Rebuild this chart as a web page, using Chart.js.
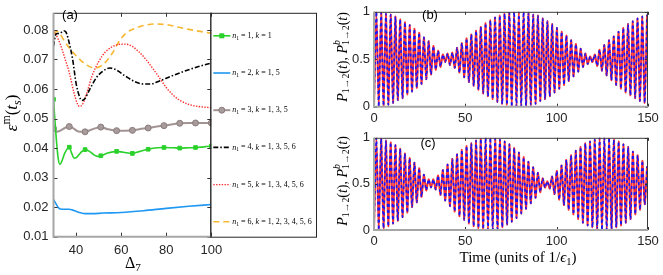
<!DOCTYPE html>
<html>
<head>
<meta charset="utf-8">
<script src="https://cdn.jsdelivr.net/npm/chart.js@4.4.0/dist/chart.umd.min.js"></script>
<style>
  body { margin: 0; background: #fff; width: 663px; height: 275px; overflow: hidden; position: relative; }
  canvas { position: absolute; }
  #ca { left: 0; top: 0; }
  #cb { left: 330px; top: 0; }
  #cc { left: 330px; top: 126px; }
</style>
</head>
<body>
<canvas id="ca" width="330" height="275"></canvas>
<canvas id="cb" width="333" height="126"></canvas>
<canvas id="cc" width="333" height="149"></canvas>
<script>
// ---- panel (a): eps^m(t_s) vs Delta_7 ----
const markerDelta = [30, 37, 44, 51, 58, 65, 72, 79, 86, 93, 100];

const deltaN1 = [30, 31, 32, 32.8, 33.5, 35, 37, 38, 39.1, 40, 42, 44, 46, 48, 49.5, 51, 54, 58, 61, 65, 68, 72, 76, 79, 83, 86, 90, 93, 97, 100];
const epsN1 = [0.0565, 0.0455, 0.0370, 0.0345, 0.0352, 0.0383, 0.0403, 0.0384, 0.0366, 0.0367, 0.0384, 0.0395, 0.0389, 0.0377, 0.0372, 0.0374, 0.0383, 0.0389, 0.0386, 0.0382, 0.0388, 0.0396, 0.0401, 0.0402, 0.0401, 0.0400, 0.0401, 0.0402, 0.0404, 0.0407];

const deltaN2 = [30, 31, 32, 33, 35, 37, 38.5, 40, 42, 44, 47, 52, 60, 70, 80, 90, 100];
const epsN2 = [0.0226, 0.0213, 0.0200, 0.0194, 0.0193, 0.0193, 0.0190, 0.0186, 0.0181, 0.0178, 0.0178, 0.0180, 0.0182, 0.0188, 0.0196, 0.0203, 0.0209];

const deltaN3 = [30, 31.5, 33, 35, 37, 39, 41, 44, 47, 51, 54, 58, 62, 65, 68, 72, 76, 79, 83, 86, 90, 93, 100];
const epsN3 = [0.0466, 0.0455, 0.0459, 0.0468, 0.0473, 0.0466, 0.0456, 0.0455, 0.0463, 0.0471, 0.0464, 0.0459, 0.0459, 0.0460, 0.0464, 0.0468, 0.0473, 0.0476, 0.0481, 0.0484, 0.0485, 0.0485, 0.0485];

const deltaN4 = [30, 31, 32, 33, 34.5, 35.5, 37, 38.5, 40, 41.5, 42.5, 44, 46, 49, 52, 55, 58, 62, 66, 70, 73, 77, 82, 88, 94, 100];
const epsN4 = [0.0745, 0.0785, 0.0788, 0.0789, 0.0797, 0.0793, 0.0755, 0.0700, 0.0620, 0.0575, 0.0561, 0.0568, 0.0598, 0.0638, 0.0661, 0.0671, 0.0664, 0.0643, 0.0625, 0.0617, 0.0617, 0.0627, 0.0643, 0.0660, 0.0675, 0.0688];

const deltaN5 = [30, 31, 32, 33, 35, 37, 39, 40.5, 41.5, 43, 45, 47, 50, 53, 56, 59, 62, 65, 68, 71, 74, 77, 80, 83, 86, 90, 95, 100];
const epsN5 = [0.0795, 0.0785, 0.0770, 0.0752, 0.0705, 0.0655, 0.0590, 0.0552, 0.0541, 0.0550, 0.0592, 0.0642, 0.0692, 0.0725, 0.0743, 0.0751, 0.0752, 0.0744, 0.0725, 0.0700, 0.0670, 0.0638, 0.0605, 0.0580, 0.0562, 0.0548, 0.0540, 0.0537];

const deltaN6 = [30, 31.5, 33, 35, 38, 41, 44, 47, 49, 51, 53, 56, 59, 62, 66, 70, 75, 80, 85, 90, 95, 100];
const epsN6 = [0.0785, 0.0795, 0.0785, 0.0760, 0.0730, 0.0705, 0.0685, 0.0673, 0.0672, 0.0678, 0.0690, 0.0720, 0.0760, 0.0788, 0.0805, 0.0815, 0.0820, 0.0818, 0.0810, 0.0802, 0.0795, 0.0789];

const kSets = ['1', '1, 5', '1, 3, 5', '1, 3, 5, 6', '1, 3, 4, 5, 6', '1, 2, 3, 4, 5, 6'];
const yTicksA = [0.01, 0.02, 0.03, 0.04, 0.05, 0.06, 0.07, 0.08];
const xTicksA = [40, 60, 80, 100];

// ---- panels (b),(c): transition probabilities vs time (extrema of the fast oscillation) ----
const times = [0, 1.3, 2.6, 3.9, 5.2, 6.5, 7.8, 9.1, 10.4, 11.7, 13, 14.3, 15.6, 16.9, 18.2, 19.5, 20.8, 22.1, 23.4, 24.7,
  26, 27.3, 28.6, 29.9, 31.2, 32.5, 33.8, 35.1, 36.4, 37.7, 39, 40.3, 41.6, 42.9, 44.2, 45.5, 46.8, 48.1, 49.4, 50.7,
  52, 53.3, 54.6, 55.9, 57.2, 58.5, 59.8, 61.1, 62.4, 63.7, 65, 66.3, 67.6, 68.9, 70.2, 71.5, 72.8, 74.1, 75.4, 76.7,
  78, 79.3, 80.6, 81.9, 83.2, 84.5, 85.8, 87.1, 88.4, 89.7, 91, 92.3, 93.6, 94.9, 96.2, 97.5, 98.8, 100.1, 101.4, 102.7,
  104, 105.3, 106.6, 107.9, 109.2, 110.5, 111.8, 113.1, 114.4, 115.7, 117, 118.3, 119.6, 120.9, 122.2, 123.5, 124.8, 126.1, 127.4, 128.7,
  130, 131.3, 132.6, 133.9, 135.2, 136.5, 137.8, 139.1, 140.4, 141.7, 143, 144.3, 145.6, 146.9, 148.2, 149.5];

const probB = [0.00, 1.00, 0.00, 0.99, 0.01, 0.98, 0.02, 0.97, 0.04, 0.95,
  0.07, 0.92, 0.09, 0.89, 0.13, 0.86, 0.16, 0.82, 0.20, 0.78,
  0.24, 0.73, 0.29, 0.69, 0.34, 0.64, 0.39, 0.59, 0.42, 0.55,
  0.47, 0.56, 0.44, 0.57, 0.41, 0.62, 0.36, 0.67, 0.31, 0.72,
  0.26, 0.76, 0.22, 0.80, 0.18, 0.84, 0.14, 0.88, 0.11, 0.91,
  0.08, 0.94, 0.05, 0.96, 0.03, 0.98, 0.02, 0.99, 0.00, 1.00,
  0.00, 1.00, 0.00, 1.00, 0.01, 0.99, 0.02, 0.97, 0.03, 0.96,
  0.06, 0.93, 0.08, 0.90, 0.11, 0.87, 0.15, 0.83, 0.19, 0.79,
  0.23, 0.75, 0.27, 0.70, 0.32, 0.66, 0.37, 0.61, 0.42, 0.56,
  0.45, 0.53, 0.47, 0.55, 0.43, 0.60, 0.38, 0.65, 0.33, 0.70,
  0.28, 0.74, 0.23, 0.79, 0.19, 0.83, 0.15, 0.87, 0.12, 0.90,
  0.09, 0.93, 0.06, 0.95, 0.04, 0.97];

const probC = [0.00, 1.00, 0.00, 0.99, 0.02, 0.97, 0.04, 0.95, 0.07, 0.92,
  0.10, 0.88, 0.14, 0.83, 0.19, 0.78, 0.25, 0.73, 0.30, 0.67,
  0.36, 0.60, 0.43, 0.55, 0.46, 0.55, 0.44, 0.59, 0.38, 0.65,
  0.32, 0.71, 0.26, 0.77, 0.20, 0.82, 0.15, 0.87, 0.11, 0.91,
  0.07, 0.94, 0.04, 0.97, 0.02, 0.99, 0.01, 1.00, 0.00, 1.00,
  0.00, 0.99, 0.01, 0.98, 0.03, 0.96, 0.06, 0.93, 0.09, 0.89,
  0.13, 0.84, 0.18, 0.79, 0.23, 0.74, 0.29, 0.68, 0.35, 0.62,
  0.41, 0.56, 0.46, 0.53, 0.45, 0.58, 0.39, 0.64, 0.33, 0.70,
  0.27, 0.76, 0.22, 0.81, 0.17, 0.86, 0.12, 0.90, 0.08, 0.94,
  0.05, 0.96, 0.03, 0.98, 0.01, 1.00, 0.00, 1.00, 0.00, 1.00,
  0.01, 0.98, 0.03, 0.96, 0.05, 0.93, 0.08, 0.90, 0.12, 0.85,
  0.17, 0.81, 0.22, 0.75, 0.28, 0.69];

const yTicksP = [0, 0.5, 1];
const xTicksT = [0, 50, 100, 150];

// ---------- helpers ----------
const pts = (xs, ys) => xs.map((x, i) => ({ x: x, y: ys[i] }));

// draws text with italic / sub / superscript pieces
function rich(ctx, parts, x, y, size, rot, left) {
  ctx.save();
  ctx.translate(x, y);
  ctx.rotate(rot || 0);
  ctx.fillStyle = '#000';
  ctx.textAlign = 'left';
  ctx.textBaseline = 'middle';
  const font = p => (p.i ? 'italic ' : '') + (p.s ? size * 0.7 : size) + 'px "Liberation Serif", "DejaVu Serif"';
  let w = 0;
  parts.forEach(p => { ctx.font = font(p); if (!p.k) w += ctx.measureText(p.t).width; });
  let cx = left ? 0 : -w / 2;
  parts.forEach(p => {
    ctx.font = font(p);
    const dy = p.s === 'sub' ? size * 0.28 : p.s === 'sup' ? -size * 0.38 : 0;
    ctx.fillText(p.t, cx, dy);
    if (!p.k) cx += ctx.measureText(p.t).width;
  });
  ctx.restore();
}

// box and inward ticks like the original
const frame = {
  id: 'frame',
  afterDraw(chart, args, o) {
    const { ctx, chartArea: a, scales } = chart;
    ctx.save();
    ctx.setLineDash([]);
    const tl = o.len || 3;
    ctx.strokeStyle = '#333';
    ctx.lineWidth = 1;
    scales.x.ticks.forEach(t => {
      const px = Math.round(scales.x.getPixelForValue(t.value)) + 0.5;
      ctx.beginPath(); ctx.moveTo(px, a.bottom); ctx.lineTo(px, a.bottom - tl);
      ctx.moveTo(px, a.top); ctx.lineTo(px, a.top + tl); ctx.stroke();
    });
    scales.y.ticks.forEach(t => {
      const py = Math.round(scales.y.getPixelForValue(t.value)) + 0.5;
      ctx.beginPath(); ctx.moveTo(a.left, py); ctx.lineTo(a.left + tl, py);
      ctx.moveTo(a.right, py); ctx.lineTo(a.right - tl, py); ctx.stroke();
    });
    ctx.strokeStyle = '#3a3a3a';
    ctx.beginPath(); ctx.moveTo(a.left, a.top + 0.5); ctx.lineTo(a.right, a.top + 0.5);
    ctx.moveTo(a.right - 0.5, a.top); ctx.lineTo(a.right - 0.5, a.bottom); ctx.stroke();
    ctx.strokeStyle = '#a6a6a6';
    ctx.lineWidth = 2;
    ctx.beginPath(); ctx.moveTo(a.left, a.top); ctx.lineTo(a.left, a.bottom);
    ctx.lineTo(a.right, a.bottom); ctx.stroke();
    ctx.font = '13px "Liberation Sans"';
    ctx.fillStyle = '#000';
    ctx.textAlign = 'center';
    ctx.textBaseline = 'middle';
    ctx.fillText(o.tag, o.tagX, o.tagY);
    if (o.extra) o.extra(ctx, chart);
    ctx.restore();
  }
};

const tickFont = { family: 'Liberation Sans', size: 13 };

function axisX(min, max, ticks, h, pad) {
  return {
    type: 'linear', min: min, max: max,
    grid: { display: false, drawTicks: false }, border: { display: false },
    ticks: { font: tickFont, color: '#262626', padding: pad, maxRotation: 0, autoSkip: false, callback: v => String(v) },
    afterBuildTicks: s => { s.ticks = ticks.map(v => ({ value: v })); },
    afterFit: s => { s.height = h; }
  };
}
function axisY(min, max, ticks, w, pad, fmt) {
  return {
    type: 'linear', min: min, max: max,
    grid: { display: false, drawTicks: false }, border: { display: false },
    ticks: { font: tickFont, color: '#262626', padding: pad, autoSkip: false, callback: fmt },
    afterBuildTicks: s => { s.ticks = ticks.map(v => ({ value: v })); },
    afterFit: s => { s.width = w; }
  };
}

// ---------- panel (a) ----------
const seriesA = [
  { d: pts(deltaN1, epsN1), c: '#2bd12b', w: 1.6, dash: [], mk: 'rect', mc: '#2bd12b' },
  { d: pts(deltaN2, epsN2), c: '#1e98f2', w: 1.6, dash: [] },
  { d: pts(deltaN3, epsN3), c: '#a39393', w: 2, dash: [], mk: 'circle', mc: '#a89b9b' },
  { d: pts(deltaN4, epsN4), c: '#000000', w: 1.6, dash: [5, 2, 1.5, 2] },
  { d: pts(deltaN5, epsN5), c: '#ff2b2b', w: 1.4, dash: [1.4, 1.4] },
  { d: pts(deltaN6, epsN6), c: '#f7b731', w: 1.6, dash: [6, 4] }
];

const legendBox = {
  id: 'legendBox',
  afterDraw(chart) {
    const { ctx, chartArea: a } = chart;
    ctx.save();
    ctx.strokeStyle = '#262626';
    ctx.lineWidth = 1;
    ctx.setLineDash([]);
    ctx.strokeRect(a.right - 0.5, a.top + 0.5, 317 - a.right, a.bottom - a.top);
    chart.data.datasets.forEach((ds, i) => {
      const y = a.top + 23 + i * 37.2;
      ctx.strokeStyle = ds.borderColor;
      ctx.lineWidth = ds.borderWidth;
      ctx.setLineDash(ds.borderDash);
      ctx.beginPath(); ctx.moveTo(a.right + 2, y); ctx.lineTo(a.right + 19, y); ctx.stroke();
      ctx.setLineDash([]);
      if (ds.mk === 'rect') { ctx.fillStyle = ds.mc; ctx.fillRect(a.right + 8, y - 2.5, 5, 5); }
      if (ds.mk === 'circle') {
        ctx.fillStyle = ds.mc; ctx.strokeStyle = '#8a7b7b'; ctx.lineWidth = 1;
        ctx.beginPath(); ctx.arc(a.right + 10.5, y, 3, 0, Math.PI * 2); ctx.fill(); ctx.stroke();
      }
      rich(ctx, [{ t: 'n', i: 1 }, { t: '1', s: 'sub' }, { t: ' = ' + (i + 1) + ', ' }, { t: 'k', i: 1 }, { t: ' = ' + kSets[i] }],
        a.right + 21, y, 8, 0, true);
    });
    ctx.restore();
  }
};

new Chart(document.getElementById('ca'), {
  type: 'line',
  data: {
    datasets: seriesA.map((s, i) => ({
      label: 'n1 = ' + (i + 1) + ', k = ' + kSets[i],
      data: s.d,
      borderColor: s.c,
      borderWidth: s.w,
      borderDash: s.dash,
      mk: s.mk, mc: s.mc,
      cubicInterpolationMode: 'monotone',
      pointStyle: s.mk || false,
      pointBackgroundColor: s.mc,
      pointBorderColor: s.mk === 'circle' ? '#8a7b7b' : s.mc,
      pointBorderWidth: 1,
      pointRadius: ctx => (s.mk && markerDelta.includes(ctx.raw.x)) ? (s.mk === 'rect' ? 2.6 : 3) : 0
    }))
  },
  options: {
    responsive: false, animation: false, events: [],
    layout: { padding: { left: 0, top: 5, right: 118.7, bottom: 0 } },
    plugins: {
      legend: { display: false }, tooltip: { enabled: false },
      frame: {
        tag: '(a)', tagX: 70, tagY: 15, len: 4,
        extra: (ctx) => {
          rich(ctx, [{ t: 'ε', i: 1 }, { t: 'm', s: 'sup' }, { t: '(' }, { t: 't', i: 1 }, { t: 's', s: 'sub', i: 1 }, { t: ')' }], 13, 113, 17, -Math.PI / 2);
          rich(ctx, [{ t: 'Δ' }, { t: '7', s: 'sub' }], 133, 264, 16, 0);
        }
      }
    },
    scales: {
      x: axisX(30, 100, xTicksA, 38.3, 6),
      y: axisY(0.01, 0.0858, yTicksA, 53.5, 5, v => v.toFixed(2))
    }
  },
  plugins: [frame, legendBox]
});

// ---------- panels (b), (c) ----------
function probChart(id, values, top, bottomH, tag, tagX, tagY, extra) {
  return new Chart(document.getElementById(id), {
    type: 'line',
    data: {
      datasets: [
        { label: 'Pb1→2(t)', data: pts(times, values), borderColor: '#1515ff', borderWidth: 1.6, borderDash: [3, 3], pointRadius: 0, tension: 0.2 },
        { label: 'P1→2(t)', data: pts(times, values), borderColor: '#ff3030', borderWidth: 2, pointRadius: 0, tension: 0.2 }
      ]
    },
    options: {
      responsive: false, animation: false, events: [],
      layout: { padding: { left: 0, top: top, right: 15, bottom: 0 } },
      plugins: {
        legend: { display: false }, tooltip: { enabled: false },
        frame: { tag: tag, tagX: tagX, tagY: tagY, len: 3, extra: extra }
      },
      scales: {
        x: axisX(0, 150, xTicksT, bottomH, 4),
        y: axisY(0, 1, yTicksP, 44, 4, v => String(v))
      }
    },
    plugins: [frame]
  });
}

const pTitle = [{ t: 'P', i: 1 }, { t: '1→2', s: 'sub' }, { t: '(' }, { t: 't', i: 1 }, { t: '), ' },
  { t: 'P', i: 1 }, { t: 'b', s: 'sup', i: 1, k: 1 }, { t: '1→2', s: 'sub' }, { t: '(' }, { t: 't', i: 1 }, { t: ')' }];

probChart('cb', probB, 6, 19.3, '(b)', 100, 15, ctx => {
  rich(ctx, pTitle, 13, 57, 14, -Math.PI / 2);
});
probChart('cc', probC, 7, 45, '(c)', 98, 17, ctx => {
  rich(ctx, pTitle, 13, 55, 14, -Math.PI / 2);
  rich(ctx, [{ t: 'Time (units of 1/' }, { t: 'ϵ', i: 1 }, { t: '1', s: 'sub' }, { t: ')' }], 188, 132, 15, 0);
});
</script>
</body>
</html>
